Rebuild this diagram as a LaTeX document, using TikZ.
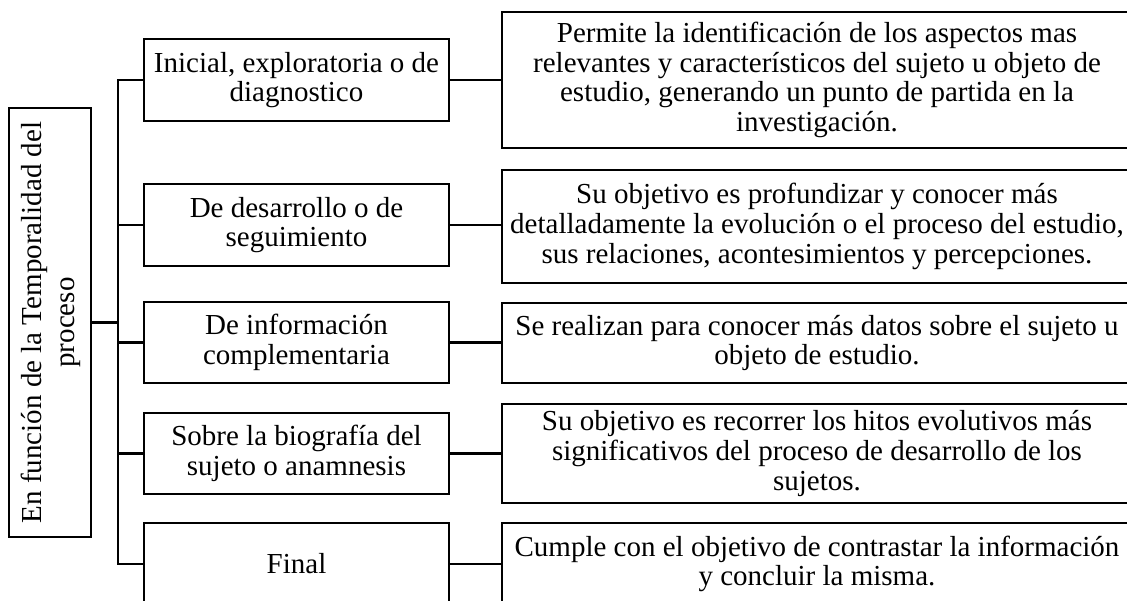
\documentclass[tikz,border=0pt]{standalone}
\usepackage{fontspec}
\setmainfont{Liberation Serif}
\begin{document}
\begin{tikzpicture}[x=1pt,y=-1pt,
  box/.style={draw, line width=2.8pt, inner sep=0pt, align=center,
    font=\fontsize{29}{29.8}\selectfont},
  mid/.style={box, minimum width=305pt},
  rgt/.style={box, minimum width=630pt},
  conn/.style={line width=2.8pt}]
\useasboundingbox (0,0) rectangle (1127,600);
\clip (0,0) rectangle (1127,600);
% left box
\node[box, minimum width=82pt, minimum height=429pt] (L) at (50,322.5) {};
\node[rotate=90, align=center, inner sep=0pt, font=\fontsize{29}{33}\selectfont] (Lt) at (51,322.5) {En función de la Temporalidad del\\proceso};
% middle boxes
\node[mid, minimum height=82pt] (M1) at (296.5,80) {Inicial, exploratoria o de\\diagnostico};
\node[mid, minimum height=82pt] (M2) at (296.5,225) {De desarrollo o de\\seguimiento};
\node[mid, minimum height=81pt] (M3) at (296.5,342.5) {De información\\complementaria};
\node[mid, minimum height=81pt] (M4) at (296.5,453.5) {Sobre la biografía del\\sujeto o anamnesis};
\node[mid, minimum height=82pt] (M5) at (296.5,564) {Final};
% right boxes
\node[rgt, minimum height=136pt] (R1) at (817,80) {Permite la identificación de los aspectos mas\\relevantes y característicos del sujeto u objeto de\\estudio, generando un punto de partida en la\\investigación.};
\node[rgt, minimum height=113pt] (R2) at (817,226.5) {Su objetivo es profundizar y conocer más\\detalladamente la evolución o el proceso del estudio,\\sus relaciones, acontesimientos y percepciones.};
\node[rgt, minimum height=80pt] (R3) at (817,343) {Se realizan para conocer más datos sobre el sujeto u\\objeto de estudio.};
\node[rgt, minimum height=99pt] (R4) at (817,453.5) {Su objetivo es recorrer los hitos evolutivos más\\significativos del proceso de desarrollo de los\\sujetos.};
\node[rgt, minimum height=82pt] (R5) at (817,564) {Cumple con el objetivo de contrastar la información\\y concluir la misma.};
% trunk
\coordinate (T) at (118,322.5);
\coordinate (Ttop) at (118,80);
\coordinate (Tbot) at (118,564);
\draw[conn] (L.east) -- (T);
\draw[conn, line cap=rect] (Ttop) -- (Tbot);
\draw[conn] (Ttop) -- (M1.west);
\draw[conn] (118,225) -- (M2.west);
\draw[conn] (118,342.5) -- (M3.west);
\draw[conn] (118,453.5) -- (M4.west);
\draw[conn] (Tbot) -- (M5.west);
\draw[conn] (M1.east) -- (M1.east -| R1.west);
\draw[conn] (M2.east) -- (M2.east -| R2.west);
\draw[conn] (M3.east) -- (M3.east -| R3.west);
\draw[conn] (M4.east) -- (M4.east -| R4.west);
\draw[conn] (M5.east) -- (M5.east -| R5.west);
\end{tikzpicture}
\end{document}
